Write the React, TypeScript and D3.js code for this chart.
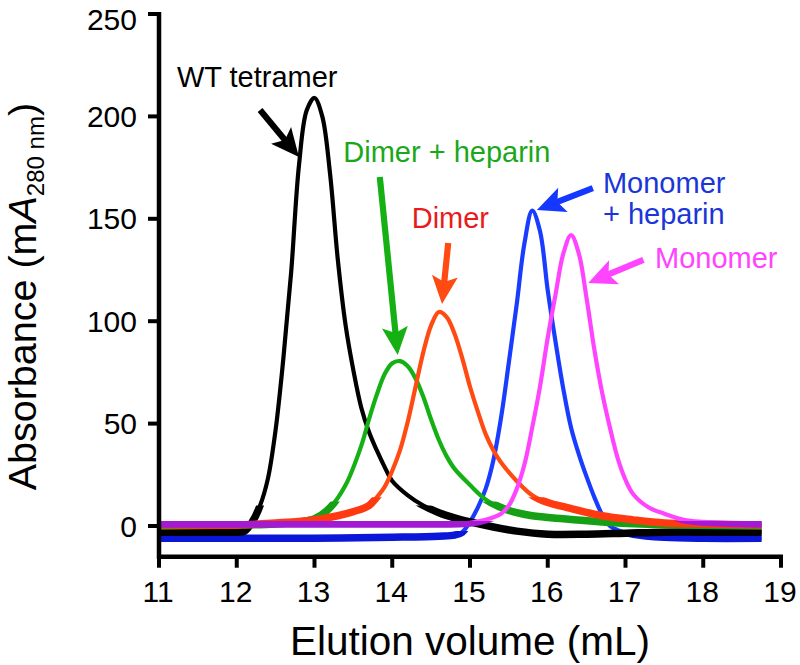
import React from 'react';
import * as d3 from 'd3';

// ---------- data (elution volume in mL, absorbance in mA280) ----------
const wtX = [11.0, 11.5, 12.0, 12.1, 12.2, 12.3, 12.4, 12.5, 12.6, 12.7, 12.8, 12.9, 13.0, 13.1, 13.2, 13.3, 13.4, 13.5, 13.6, 13.7, 13.8, 13.9, 14.0, 14.2, 14.4, 14.6, 14.8, 15.0, 15.3, 15.6, 16.0, 16.5, 17.0, 17.5, 18.0, 18.75];
const wtY = [-3, -3, -3, -2.5, 2, 10, 23, 47, 82, 124, 176, 203, 209, 200, 172, 130, 98, 76, 58, 46, 37, 29, 22, 15, 10, 6.5, 4, 2, -0.5, -2.5, -4, -4, -3.5, -3, -3, -3];

const dimerHepX = [11.0, 12.0, 12.5, 13.0, 13.2, 13.4, 13.6, 13.7, 13.8, 13.9, 14.0, 14.1, 14.2, 14.3, 14.4, 14.5, 14.6, 14.7, 14.8, 15.0, 15.2, 15.4, 15.6, 15.8, 16.2, 16.7, 17.2, 17.7, 18.75];
const dimerHepY = [0, 0.5, 1, 3.5, 9, 20, 39, 52, 64, 74, 79.5, 80.5, 78, 72, 63, 52, 42, 34, 28, 20, 13, 9, 6.5, 5, 3.5, 2, 1, 0.5, 0];

const dimerX = [11.0, 12.0, 12.5, 13.0, 13.3, 13.5, 13.7, 13.8, 13.9, 14.0, 14.1, 14.2, 14.3, 14.4, 14.5, 14.6, 14.7, 14.8, 14.9, 15.0, 15.1, 15.2, 15.3, 15.4, 15.6, 15.8, 16.0, 16.25, 16.7, 17.1, 17.5, 18.0, 18.75];
const dimerY = [0.5, 0.5, 1.5, 3, 5, 7, 10, 14, 19, 27, 37, 51, 68, 85, 98, 104.5, 102, 94, 82, 68, 56, 45, 37, 31, 22, 15, 11.5, 9, 5, 3, 1.5, 1, 0.5];

const monoHepX = [11.0, 12.0, 13.0, 14.0, 14.6, 14.8, 14.9, 15.0, 15.1, 15.2, 15.3, 15.4, 15.5, 15.6, 15.7, 15.8, 15.9, 16.0, 16.1, 16.2, 16.3, 16.4, 16.5, 16.6, 16.7, 16.8, 16.9, 17.1, 17.5, 18.0, 18.75];
const monoHepY = [-6, -6, -6, -5.5, -5, -4.5, -3, 2, 9, 18, 32, 53, 80, 108, 138, 154, 144, 115, 90, 67, 48, 35, 24, 14, 5.5, 0, -2, -4, -5.5, -6, -6];

const monoX = [11.0, 14.0, 15.0, 15.2, 15.4, 15.5, 15.6, 15.7, 15.8, 15.9, 16.0, 16.1, 16.2, 16.3, 16.4, 16.5, 16.6, 16.7, 16.8, 16.9, 17.0, 17.1, 17.3, 17.5, 17.75, 18.0, 18.75];
const monoY = [1, 1, 1.5, 3, 6, 10, 18, 30, 48, 68, 92, 113, 133, 142, 133, 111, 86, 65, 48, 33, 22.5, 15.5, 9, 6, 3, 2, 1];

const xTicks = [11, 12, 13, 14, 15, 16, 17, 18, 19];
const yTicks = [0, 50, 100, 150, 200, 250];

// annotation label positions & arrows, in data units
const labelText = ['WT tetramer', 'Dimer + heparin', 'Dimer', 'Monomer', '+ heparin', 'Monomer'];
const labelX = [11.23, 13.37, 14.25, 16.71, 16.71, 17.38];
const labelY = [214.3, 177.7, 145.5, 162.6, 147.5, 126];
const arrowFromX = [12.30, 13.84, 14.72, 16.58, 17.23];
const arrowFromY = [203.1, 170.4, 138.2, 165, 129.9];
const arrowToX = [12.80, 14.07, 14.64, 15.86, 16.52];
const arrowToY = [180.2, 83.5, 108.4, 154.3, 118.7];

// ---------- styles ----------
const W = 800;
const H = 665;
const FONT = '"Liberation Sans", Arial, Helvetica, sans-serif';

type Series = { xs: number[]; ys: number[]; color: string; band: string; bandMax: number };
const series: Series[] = [
  { xs: monoHepX, ys: monoHepY, color: '#1a3cff', band: '#0a16d8', bandMax: -2.5 },
  { xs: wtX, ys: wtY, color: '#000000', band: '#000000', bandMax: 10 },
  { xs: dimerHepX, ys: dimerHepY, color: '#14b014', band: '#16a016', bandMax: 12 },
  { xs: dimerX, ys: dimerY, color: '#ff4a12', band: '#ff3a10', bandMax: 14 },
  { xs: monoX, ys: monoY, color: '#ff44ff', band: '#a21ad4', bandMax: 2.5 },
];
const labelColors = ['#000000', '#1aa81a', '#e81c1c', '#1a36d8', '#1a36d8', '#ff44ff'];
const arrowColors = ['#000000', '#14b014', '#ff4a12', '#1438ff', '#ff44ff'];

export default function App() {
  const x = d3.scaleLinear().domain([11, 19]).range([159, 781]);
  const y = d3.scaleLinear().domain([0, 250]).range([526, 14]);
  const yBottom = y(-15);

  const line = d3
    .line<[number, number]>()
    .x((d) => x(d[0]))
    .y((d) => y(d[1]))
    .curve(d3.curveCatmullRom.alpha(0.5));

  const arrow = (i: number) => {
    const x1 = x(arrowFromX[i]);
    const y1 = y(arrowFromY[i]);
    const x2 = x(arrowToX[i]);
    const y2 = y(arrowToY[i]);
    const dx = x2 - x1;
    const dy = y2 - y1;
    const len = Math.hypot(dx, dy);
    const ux = dx / len;
    const uy = dy / len;
    const px = -uy;
    const py = ux;
    const L = 28;
    const Wd = 13;
    const notch = 6;
    const bx = x2 - ux * L;
    const by = y2 - uy * L;
    const nx = x2 - ux * (L - notch);
    const ny = y2 - uy * (L - notch);
    const pts = [
      [x2, y2],
      [bx + px * Wd, by + py * Wd],
      [nx, ny],
      [bx - px * Wd, by - py * Wd],
    ];
    return (
      <g key={'arr' + i}>
        <line x1={x1} y1={y1} x2={nx + ux * 2} y2={ny + uy * 2} stroke={arrowColors[i]} strokeWidth={6.2} />
        <polygon points={pts.map((p) => p.join(',')).join(' ')} fill={arrowColors[i]} />
      </g>
    );
  };

  return (
    <svg
      width={W}
      height={H}
      viewBox={`0 0 ${W} ${H}`}
      style={{ position: 'absolute', left: 0, top: 0, background: '#fff' }}
      fontFamily={FONT}
    >
      <rect x={0} y={0} width={W} height={H} fill="#fff" />
      <defs>
        {series.map((s, i) => (
          <clipPath id={'band' + i} key={'cp' + i}>
            <rect x={x(11) - 5} y={y(s.bandMax)} width={x(19) - x(11) + 10} height={yBottom - y(s.bandMax)} />
          </clipPath>
        ))}
      </defs>

      {/* series */}
      {series.map((s, i) => {
        const pts = s.xs.map((v, k) => [v, s.ys[k]] as [number, number]);
        const d = line(pts) || '';
        return (
          <g key={'s' + i}>
            <path d={d} fill="none" stroke={s.color} strokeWidth={4.2} strokeLinejoin="round" strokeLinecap="butt" />
            <path d={d} fill="none" stroke={s.band} strokeWidth={7.5} clipPath={`url(#band${i})`} />
          </g>
        );
      })}

      {/* axes */}
      <line x1={x(11)} y1={y(-15)} x2={x(19) + 2} y2={y(-15)} stroke="#000" strokeWidth={4.5} />
      <line x1={x(11)} y1={y(250) - 2} x2={x(11)} y2={y(-15) + 2.25} stroke="#000" strokeWidth={4.5} />
      {xTicks.map((t) => (
        <g key={'xt' + t}>
          <line x1={x(t)} y1={y(-15)} x2={x(t)} y2={y(-15) + 11} stroke="#000" strokeWidth={4} />
          <text x={x(t) - 1} y={602} fontSize={30} textAnchor="middle" fill="#000">
            {t}
          </text>
        </g>
      ))}
      {yTicks.map((t) => (
        <g key={'yt' + t}>
          <line x1={x(11)} y1={y(t)} x2={x(11) - 11} y2={y(t)} stroke="#000" strokeWidth={4} />
          <text x={137} y={Math.max(y(t) + 10.5, 30)} fontSize={30} textAnchor="end" fill="#000">
            {t}
          </text>
        </g>
      ))}

      {/* axis titles */}
      <text x={(x(11) + x(19)) / 2} y={655} fontSize={40.5} textAnchor="middle" fill="#000">
        Elution volume (mL)
      </text>
      <text transform={`translate(36, ${y(112)}) rotate(-90)`} fontSize={39.5} textAnchor="middle" fill="#000">
        Absorbance (m<tspan fontStyle="italic">A</tspan>
        <tspan fontSize={24} dy={8}>280 nm</tspan>
        <tspan dy={-8}>)</tspan>
      </text>

      {/* annotations */}
      {labelText.map((t, i) => (
        <text key={'lb' + i} x={x(labelX[i])} y={y(labelY[i])} fontSize={29} fill={labelColors[i]}>
          {t}
        </text>
      ))}
      {arrowFromX.map((_, i) => arrow(i))}
    </svg>
  );
}
